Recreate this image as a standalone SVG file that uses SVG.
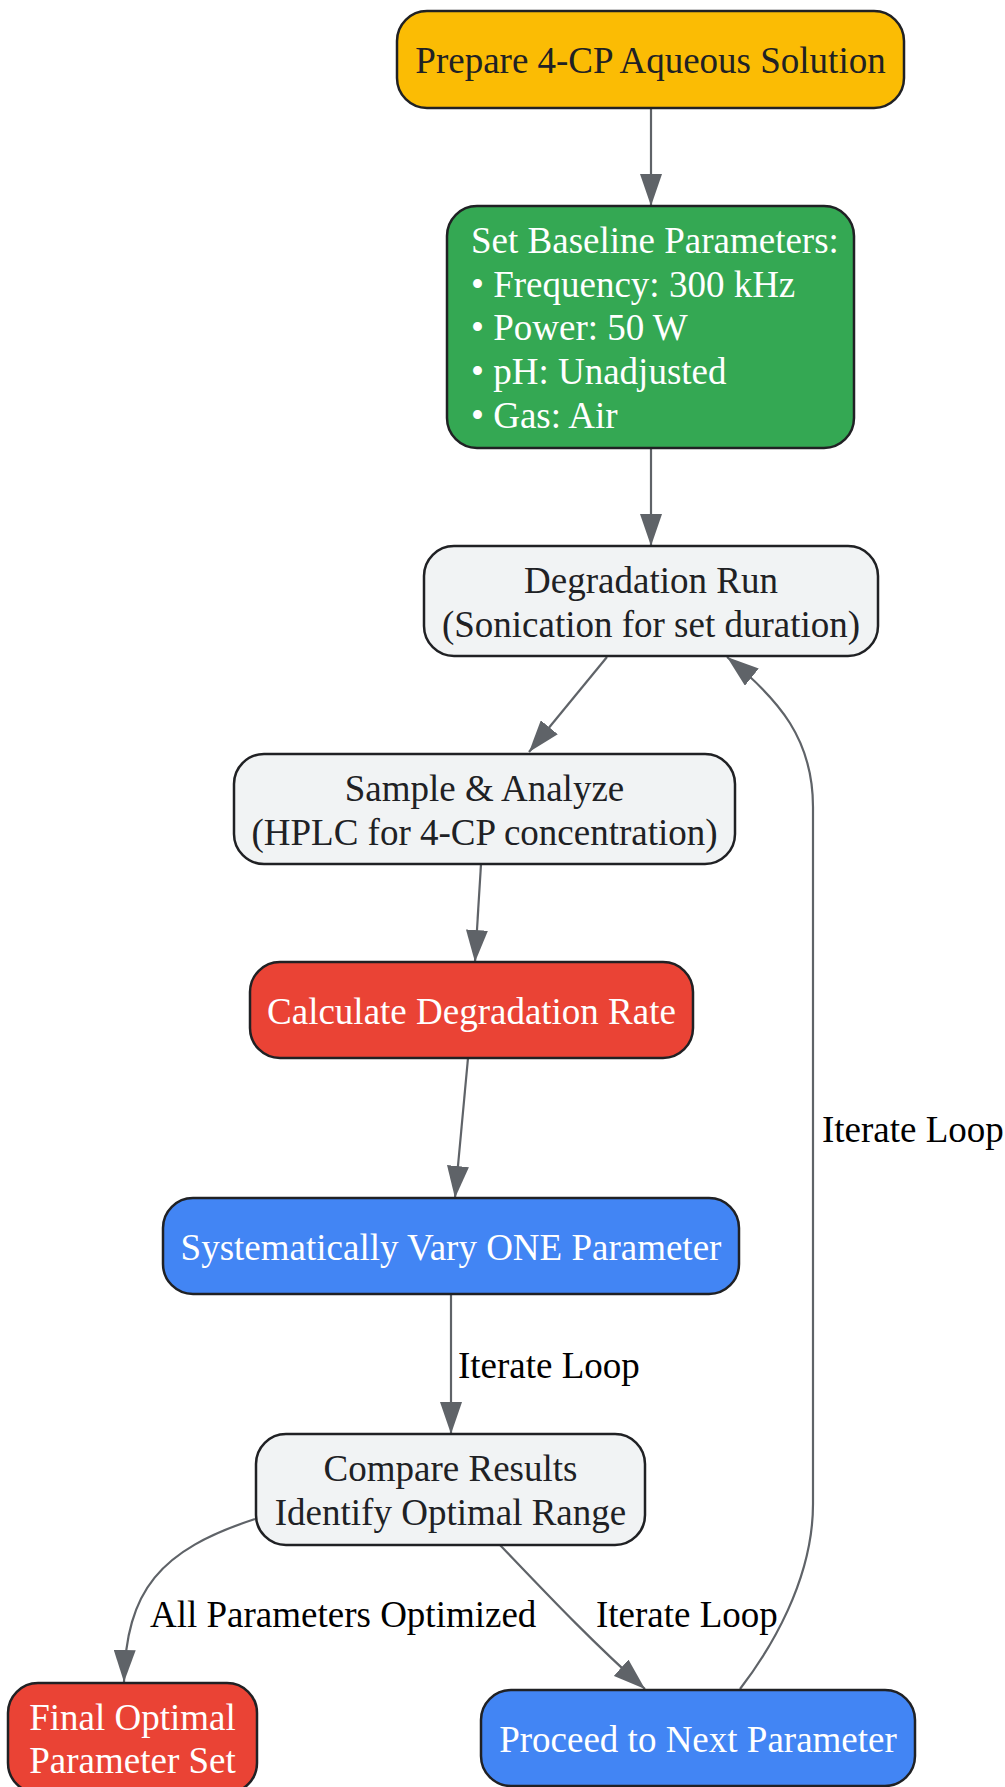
<svg xmlns="http://www.w3.org/2000/svg" width="1005" height="1787" viewBox="0 0 1005 1787">
<style>
.n{stroke:#202124;stroke-width:2.5}
.t{font-family:"Liberation Serif","Times New Roman",serif;font-size:37px}
.dk{fill:#202124}
.wh{fill:#ffffff}
.e{fill:none;stroke:#5f6368;stroke-width:2.2}
.lb{font-family:"Liberation Serif","Times New Roman",serif;font-size:37px;fill:#000000}
</style>
<defs>
<marker id="ah" viewBox="0 0 32 22" refX="32" refY="11" markerWidth="32" markerHeight="22" markerUnits="userSpaceOnUse" orient="auto">
<path d="M0,0 L32,11 L0,22 z" fill="#5f6368"/>
</marker>
</defs>
<rect width="1005" height="1787" fill="#ffffff"/>
<g id="connectors">
<path class="e" d="M651,108 L651,206" marker-end="url(#ah)"/>
<path class="e" d="M651,448 L651,546" marker-end="url(#ah)"/>
<path class="e" d="M607,657 L529,752" marker-end="url(#ah)"/>
<path class="e" d="M481,864 L475,962" marker-end="url(#ah)"/>
<path class="e" d="M468,1058 L455,1198" marker-end="url(#ah)"/>
<path class="e" d="M451,1294 L451,1434" marker-end="url(#ah)"/>
<path class="e" d="M255,1519 C160,1550 126,1590 124,1682" marker-end="url(#ah)"/>
<path class="e" d="M500,1545 C545,1592 590,1640 645,1689" marker-end="url(#ah)"/>
<path class="e" d="M740,1689 C770,1650 813,1580 813,1504 L813,807 C813,740 780,700 727,657" marker-end="url(#ah)"/>
<text class="lb" x="458" y="1378">Iterate Loop</text>
<text class="lb" x="150" y="1627">All Parameters Optimized</text>
<text class="lb" x="596" y="1627">Iterate Loop</text>
<text class="lb" x="822" y="1142">Iterate Loop</text>
</g>
<g id="prepare">
<rect class="n" x="397" y="11" width="507" height="97" rx="30" fill="#fbbc04"/>
<text class="t dk" x="650.5" y="72.5" text-anchor="middle">Prepare 4-CP Aqueous Solution</text>
</g>
<g id="baseline">
<rect class="n" x="447" y="206" width="407" height="242" rx="30" fill="#34a853"/>
<text class="t wh" x="471" y="253">Set Baseline Parameters:</text>
<text class="t wh" x="471" y="297">• Frequency: 300 kHz</text>
<text class="t wh" x="471" y="340">• Power: 50 W</text>
<text class="t wh" x="471" y="384">• pH: Unadjusted</text>
<text class="t wh" x="471" y="428">• Gas: Air</text>
</g>
<g id="run">
<rect class="n" x="424" y="546" width="454" height="110" rx="30" fill="#f1f3f4"/>
<text class="t dk" x="651" y="593" text-anchor="middle">Degradation Run</text>
<text class="t dk" x="651" y="637" text-anchor="middle">(Sonication for set duration)</text>
</g>
<g id="sample">
<rect class="n" x="234" y="754" width="501" height="110" rx="30" fill="#f1f3f4"/>
<text class="t dk" x="484.5" y="801" text-anchor="middle">Sample &amp; Analyze</text>
<text class="t dk" x="484.5" y="845" text-anchor="middle">(HPLC for 4-CP concentration)</text>
</g>
<g id="calculate">
<rect class="n" x="250" y="962" width="443" height="96" rx="30" fill="#ea4335"/>
<text class="t wh" x="471.5" y="1024" text-anchor="middle">Calculate Degradation Rate</text>
</g>
<g id="vary">
<rect class="n" x="163" y="1198" width="576" height="96" rx="30" fill="#4285f4"/>
<text class="t wh" x="451" y="1260" text-anchor="middle">Systematically Vary ONE Parameter</text>
</g>
<g id="compare">
<rect class="n" x="256" y="1434" width="389" height="111" rx="30" fill="#f1f3f4"/>
<text class="t dk" x="450.5" y="1481" text-anchor="middle">Compare Results</text>
<text class="t dk" x="450.5" y="1525" text-anchor="middle">Identify Optimal Range</text>
</g>
<g id="final">
<rect class="n" x="8" y="1683" width="249" height="110" rx="30" fill="#ea4335"/>
<text class="t wh" x="132.5" y="1730" text-anchor="middle">Final Optimal</text>
<text class="t wh" x="132.5" y="1773" text-anchor="middle">Parameter Set</text>
</g>
<g id="proceed">
<rect class="n" x="481" y="1690" width="434" height="96" rx="30" fill="#4285f4"/>
<text class="t wh" x="698" y="1752" text-anchor="middle">Proceed to Next Parameter</text>
</g>
</svg>
